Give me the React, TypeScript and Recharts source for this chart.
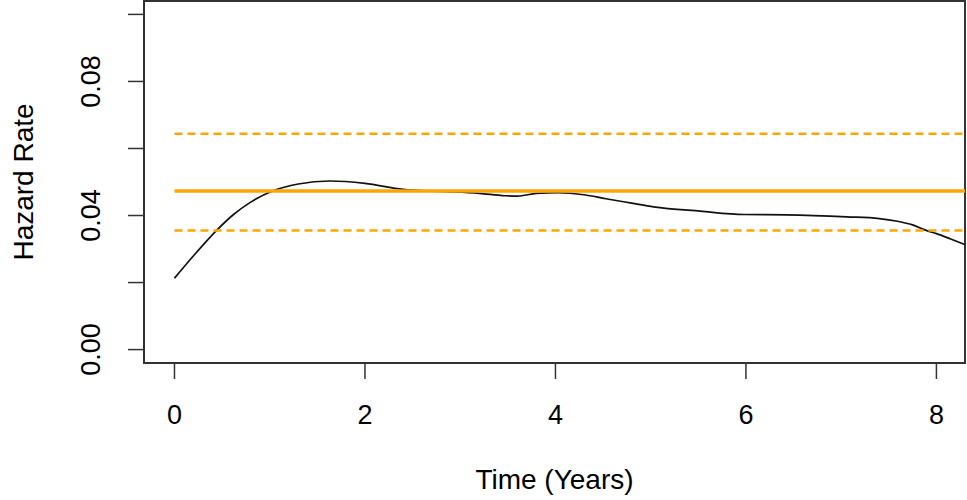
import React from "react";
import { LineChart, Line, XAxis, YAxis, ReferenceArea } from "recharts";

// Smoothed hazard estimate (time in years, hazard rate)
const times = [0, 0.2, 0.44, 0.62, 0.8, 1.03, 1.3, 1.63, 2.0, 2.4, 2.8, 3.2, 3.47, 3.6, 3.8, 4.03, 4.3, 4.53, 4.8, 5.03, 5.52, 5.98, 6.42, 7.06, 7.4, 7.59, 7.75, 7.9, 8.0, 8.15, 8.33];
const hazard = [0.0213, 0.0280, 0.0355, 0.0403, 0.0440, 0.0473, 0.0494, 0.0503, 0.0496, 0.0478, 0.0472, 0.0466, 0.0459, 0.0458, 0.0466, 0.0468, 0.0462, 0.0450, 0.0437, 0.0426, 0.0413, 0.0403, 0.0402, 0.0396, 0.0391, 0.0383, 0.0372, 0.0355, 0.0346, 0.0330, 0.0310];

// Constant (exponential) hazard estimate with confidence bounds
const constantRate = 0.0473;
const lowerBound = 0.0355;
const upperBound = 0.0644;

const xTicks = [0, 2, 4, 6, 8];
const yTicks = [0, 0.02, 0.04, 0.06, 0.08, 0.1];
const yLabeled = [0, 0.04, 0.08];
const xDomain: [number, number] = [-0.32, 8.3];
const yDomain: [number, number] = [-0.004, 0.104];

const data = times.map((t, i) => ({ t, h: hazard[i], c: constantRate, lo: lowerBound, hi: upperBound }));

const FONT = "'Liberation Sans', Arial, Helvetica, sans-serif";
const AXIS = "#333";
const ORANGE = "#FFA500";

const XTick = (props: any) => {
  const { x, y, payload } = props;
  return (
    <text x={x} y={y + 45} textAnchor="middle" fontFamily={FONT} fontSize={27} fill="#000">
      {String(payload.value)}
    </text>
  );
};

const YTick = (props: any) => {
  const { x, y, payload } = props;
  const v = payload.value as number;
  if (!yLabeled.some((l) => Math.abs(l - v) < 1e-9)) return <g />;
  const bx = x - 28;
  return (
    <text
      x={bx}
      y={y}
      transform={`rotate(-90, ${bx}, ${y})`}
      textAnchor="middle"
      fontFamily={FONT}
      fontSize={27}
      fill="#000"
    >
      {v.toFixed(2)}
    </text>
  );
};

export default function App() {
  return (
    <div style={{ position: "absolute", left: 0, top: 0, background: "#fff" }}>
      <LineChart width={967} height={500} data={data} margin={{ top: 1, right: 2, left: 0, bottom: 0 }}>
        <XAxis
          type="number"
          dataKey="t"
          domain={xDomain}
          ticks={xTicks}
          allowDataOverflow
          height={137}
          tickSize={16}
          tickMargin={0}
          axisLine={{ stroke: AXIS, strokeWidth: 1.5 }}
          tickLine={{ stroke: AXIS, strokeWidth: 1.5 }}
          tick={<XTick />}
          label={{
            content: (p: any) => {
              const vb = p.viewBox || {};
              return (
                <text
                  x={vb.x + vb.width / 2}
                  y={vb.y + 126}
                  textAnchor="middle"
                  fontFamily={FONT}
                  fontSize={28}
                  fill="#000"
                >
                  Time (Years)
                </text>
              );
            },
          }}
        />
        <YAxis
          type="number"
          domain={yDomain}
          ticks={yTicks}
          allowDataOverflow
          width={144}
          tickSize={16}
          tickMargin={0}
          axisLine={{ stroke: AXIS, strokeWidth: 1.5 }}
          tickLine={{ stroke: AXIS, strokeWidth: 1.5 }}
          tick={<YTick />}
          label={{
            content: (p: any) => {
              const vb = p.viewBox || {};
              const lx = vb.x + 33;
              const ly = vb.y + vb.height / 2;
              return (
                <text
                  x={lx}
                  y={ly}
                  transform={`rotate(-90, ${lx}, ${ly})`}
                  textAnchor="middle"
                  fontFamily={FONT}
                  fontSize={28}
                  fill="#000"
                >
                  Hazard Rate
                </text>
              );
            },
          }}
        />
        <ReferenceArea
          x1={xDomain[0]}
          x2={xDomain[1]}
          y1={yDomain[0]}
          y2={yDomain[1]}
          fill="none"
          fillOpacity={0}
          stroke={AXIS}
          strokeWidth={2}
          ifOverflow="visible"
        />
        <Line
          type="monotone"
          dataKey="h"
          stroke="#111"
          strokeWidth={1.7}
          dot={false}
          activeDot={false}
          isAnimationActive={false}
        />
        <Line
          type="linear"
          dataKey="hi"
          stroke={ORANGE}
          strokeWidth={2.5}
          strokeDasharray="8 5"
          dot={false}
          activeDot={false}
          isAnimationActive={false}
        />
        <Line
          type="linear"
          dataKey="lo"
          stroke={ORANGE}
          strokeWidth={2.5}
          strokeDasharray="8 5"
          dot={false}
          activeDot={false}
          isAnimationActive={false}
        />
        <Line
          type="linear"
          dataKey="c"
          stroke={ORANGE}
          strokeWidth={3.5}
          dot={false}
          activeDot={false}
          isAnimationActive={false}
        />
      </LineChart>
    </div>
  );
}
